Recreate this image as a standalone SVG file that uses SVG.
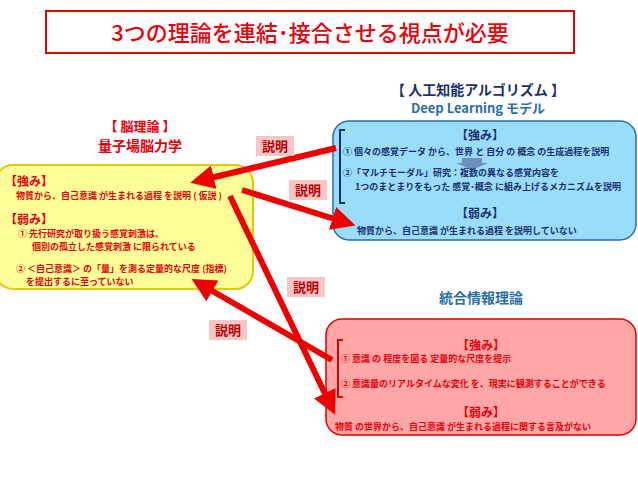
<svg xmlns="http://www.w3.org/2000/svg" width="638" height="479" viewBox="0 0 638 479">
<style>
text{font-family:"Noto Sans CJK JP","Liberation Sans",sans-serif;font-weight:bold}
.r{fill:#e8000b}.b{fill:#1a2f70}.s{font-size:9px}.h{font-size:12px}
.lbl rect{fill:#f6c6c6}.lbl text{font-size:13px;fill:#c00000;text-anchor:middle}
.ar{stroke:#ee0000;stroke-width:6;fill:none}
.br{fill:none;stroke-width:2}
</style>
<defs><marker id="ah" markerWidth="4" markerHeight="4" refX="2" refY="2" orient="auto" markerUnits="strokeWidth"><path d="M0,0L4,2L0,4z" fill="#ee0000"/></marker></defs>
<rect width="638" height="479" fill="#fff"/>
<g id="title"><rect x="46" y="11" width="528" height="42" fill="#fff" stroke="#e00000" stroke-width="2"/><text x="310" y="41" text-anchor="middle" font-size="22" class="r" style="font-weight:500">3つの理論を連結･接合させる視点が必要</text></g>
<g id="brain">
<text x="140" y="131" text-anchor="middle" font-size="13" class="r">【 脳理論 】</text>
<text x="140" y="151" text-anchor="middle" font-size="14" class="r">量子場脳力学</text>
<rect x="-5" y="165" width="258" height="124" rx="18" fill="#ffff99" stroke="#e6c800" stroke-width="2"/>
<text x="5" y="186" class="r h">【強み】</text>
<text x="16" y="199" class="r s">物質から、自己意識 が生まれる過程  を説明 ( 仮説 )</text>
<text x="5" y="224" class="r h">【弱み】</text>
<text x="18" y="237" class="r s">① 先行研究が取り扱う感覚刺激は、</text>
<text x="32" y="250" class="r s">個別の孤立した感覚刺激  に限られている</text>
<text x="16" y="272" class="r s">② ＜自己意識＞ の「量」を測る定量的な尺度 (指標)</text>
<text x="26" y="285" class="r s">を提出するに至っていない</text>
</g>
<g id="ai">
<text x="478" y="95" text-anchor="middle" font-size="14" class="b">【 人工知能アルゴリズム 】</text>
<text x="478" y="113" text-anchor="middle" font-size="13" fill="#2a6ea8" font-weight="bold">Deep Learning モデル</text>
<rect x="333" y="121" width="303" height="119" rx="16" fill="#99ddfb" stroke="#2a6ea8" stroke-width="1.5"/>
<path class="br" stroke="#1a2f70" d="M345,130H340V203H345"/>
<text x="480" y="140" text-anchor="middle" class="b h">【強み】</text>
<text x="343" y="155" class="b s">① 個々の感覚データ から、世界 と 自分 の 概念 の生成過程を説明</text>
<path d="M462,158H482V163H488L472,170L456,163H462z" fill="#6f8fbf"/>
<text x="343" y="176" class="b s">②「マルチモーダル」研究：複数の異なる感覚内容を</text>
<text x="355" y="190" class="b s">1つのまとまりをもった 感覚･概念 に組み上げるメカニズムを説明</text>
<text x="480" y="218" text-anchor="middle" class="b h">【弱み】</text>
<text x="357" y="234" class="b s">物質から、自己意識 が生まれる過程  を説明していない</text>
</g>
<g id="iit">
<text x="481" y="303" text-anchor="middle" font-size="14" fill="#2a6ea8" font-weight="bold">統合情報理論</text>
<rect x="326" y="319" width="310" height="116" rx="16" fill="#ffa6a6" stroke="#e00000" stroke-width="1.5"/>
<path class="br" stroke="#e00000" d="M343,340H338V397H343"/>
<text x="481" y="350" text-anchor="middle" class="r h">【強み】</text>
<text x="341" y="362" class="r s">①  意識 の 程度を図る 定量的な尺度を提示</text>
<text x="341" y="387" class="r s">②  意識量のリアルタイムな変化 を、現実に観測することができる</text>
<text x="481" y="417" text-anchor="middle" class="r h">【弱み】</text>
<text x="335" y="430" class="r s">物質 の世界から、自己意識 が生まれる過程に関する言及がない</text>
</g>
<g id="connectors">
<line class="ar" marker-end="url(#ah)" x1="336" y1="148" x2="202" y2="180"/>
<line class="ar" marker-end="url(#ah)" x1="242" y1="190" x2="344" y2="222"/>
<line class="ar" marker-end="url(#ah)" x1="332" y1="360" x2="202" y2="285"/>
<line class="ar" marker-end="url(#ah)" x1="230" y1="196" x2="330" y2="404"/>
</g>
<g id="labels" class="lbl">
<rect x="256" y="136" width="38" height="20"/><text x="275" y="151">説明</text>
<rect x="289" y="180" width="38" height="20"/><text x="308" y="195">説明</text>
<rect x="287" y="277" width="38" height="20"/><text x="306" y="292">説明</text>
<rect x="209" y="320" width="38" height="20"/><text x="228" y="335">説明</text>
</g>
</svg>
